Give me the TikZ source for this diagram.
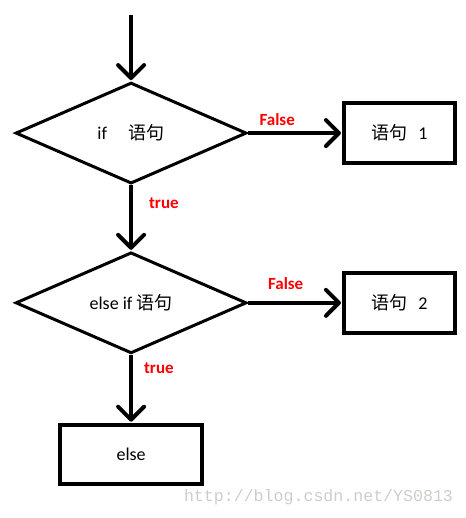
\documentclass[tikz,border=0pt]{standalone}
\usepackage{fontspec}
\setmainfont{Carlito}
\newfontfamily\cjk{Noto Sans CJK SC}
\newfontfamily\markfont{Liberation Mono}
\usetikzlibrary{matrix,shapes,arrows.meta,positioning}
\tikzset{
    decision/.style={
            diamond,
            draw,
            line width=3pt,
            minimum width=231pt,
            minimum height=101pt,
            inner sep=0pt,
            font=\fontsize{18}{21}\selectfont
        },
    block/.style={
            rectangle,
            draw,
            line width=4pt,
            minimum width=111pt,
            minimum height=60pt,
            inner sep=0pt,
            font=\fontsize{18}{21}\selectfont
        },
    wide block/.style={
            block,
            minimum width=142pt,
            minimum height=59pt
        },
    flow/.style={
            line width=4pt,
            line join=round,
            shorten >=1pt,
            -{Straight Barb[length=13pt,width=26pt,line join=round,line cap=round]}
        },
    cond/.style={
            text=red,
            inner sep=0pt,
            font=\bfseries\fontsize{17}{20}\selectfont
        }
}
\begin{document}
\begin{tikzpicture}[x=1pt,y=-1pt]
  \useasboundingbox (0,0) rectangle (465,518);
  \matrix (m)[matrix of nodes, column sep=94.5pt, row sep={67pt}, inner sep=0pt, anchor=north west, nodes={anchor=center}] at (14.5,81.5) {
  |[decision]|{if\hspace{1.2em}{\cjk 语句}} & |[block]|{{\cjk 语句}\hspace{0.6em}1} \\
  |[decision]|{else if {\cjk 语句}} & |[block]|{{\cjk 语句}\hspace{0.6em}2} \\[1.5pt]
  |[wide block]|{else} & \\
  };
  \coordinate (entry) at ([yshift=66.5pt]m-1-1.north);
  \path [flow] (entry) edge (m-1-1);
  \path [flow] (m-1-1) edge node[cond, pos=0.31, above=5pt]{False} (m-1-2);
  \path [flow] (m-1-1) edge node[cond, pos=0.28, right=16pt]{true} (m-2-1);
  \path [flow] (m-2-1) edge node[cond, pos=0.4, above=11pt]{False} (m-2-2);
  \path [flow] (m-2-1) edge node[cond, pos=0.2, right=11pt]{true} (m-3-1);
  \node (watermark) at (318.5,497) {\markfont\fontsize{16.6}{18}\selectfont\color[RGB]{205,205,200}http://blog.csdn.net/YS0813};
\end{tikzpicture}
\end{document}
